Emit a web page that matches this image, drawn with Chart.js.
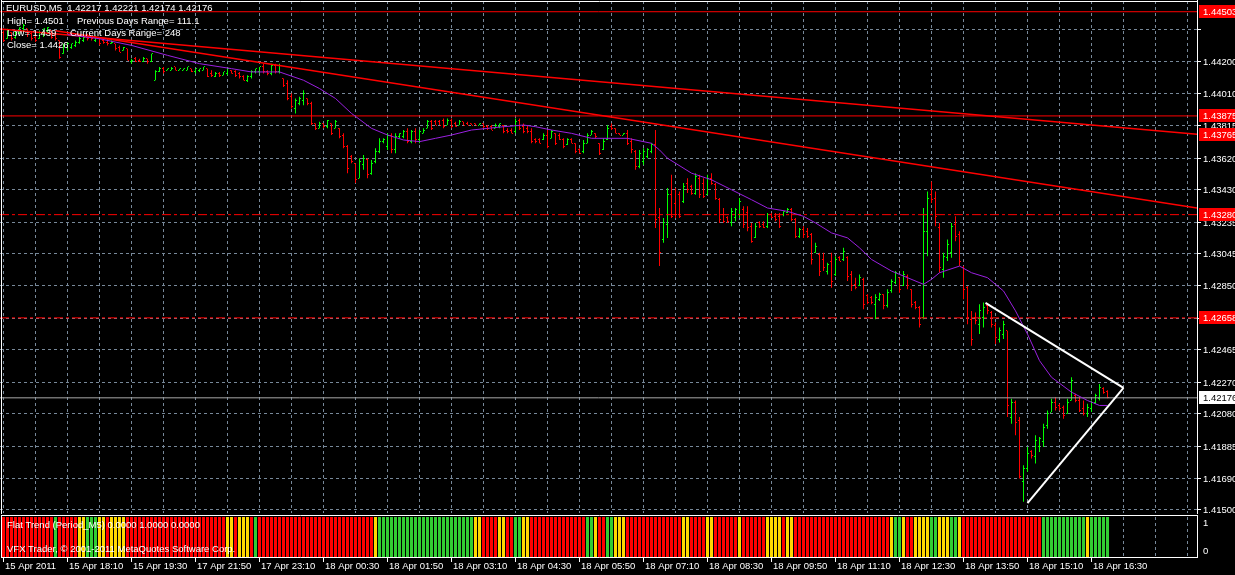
<!DOCTYPE html>
<html><head><meta charset="utf-8">
<script src="https://cdn.jsdelivr.net/npm/chart.js@4.4.0/dist/chart.umd.min.js"></script>
<style>
html,body{margin:0;padding:0;background:#000;overflow:hidden;}
#wrap{position:relative;width:1235px;height:575px;background:#000;}
canvas{position:absolute;left:0;display:block;}
#main{top:0;}
#ind{top:514px;}
</style></head><body>
<div id="wrap">
<canvas id="main" width="1235" height="514"></canvas>
<canvas id="ind" width="1235" height="61"></canvas>
</div>
<script>
// ---------------- DATA ----------------
const symbolTitle = 'EURUSD,M5  1.42217 1.42221 1.42174 1.42176';
const infoLeft = ['High= 1.4501', 'Low= 1.439', 'Close= 1.4426'];
const infoRight = ['Previous Days Range= 111.1', 'Current Days Range= 248'];
const indicatorTitle = 'Flat Trend (Period_M5) 0.0000 1.0000 0.0000';
const copyrightText = 'VFX Trader, \u00A9 2001-2011 MetaQuotes Software Corp.';

const timeLabels = ['15 Apr 2011','15 Apr 18:10','15 Apr 19:30','17 Apr 21:50','17 Apr 23:10','18 Apr 00:30','18 Apr 01:50','18 Apr 03:10','18 Apr 04:30','18 Apr 05:50','18 Apr 07:10','18 Apr 08:30','18 Apr 09:50','18 Apr 11:10','18 Apr 12:30','18 Apr 13:50','18 Apr 15:10','18 Apr 16:30'];
const priceTicks = [1.44395,1.44200,1.44010,1.43815,1.43620,1.43430,1.43235,1.43045,1.42850,1.42655,1.42465,1.42270,1.42080,1.41885,1.41690,1.41500];
const priceTickLabels = ['','1.44200','1.44010','1.43815','1.43620','1.43430','1.43235','1.43045','1.42850','1.42655','1.42465','1.42270','1.42080','1.41885','1.41690','1.41500'];

const barHigh = [
1.4439,1.4440,1.4438,1.4439,1.4441,1.4443,1.4440,1.4438,1.4437,1.4439,
1.4440,1.4441,1.4439,1.4438,1.4433,1.4431,1.4432,1.4431,1.4433,1.4435,
1.4435,1.4437,1.4435,1.4436,1.4434,1.4434,1.4434,1.4433,1.4431,1.4430,
1.4429,1.4428,1.4422,1.4423,1.4422,1.4423,1.4422,1.4425,1.4415,1.4417,
1.4417,1.4416,1.4417,1.4417,1.4416,1.4416,1.4417,1.4416,1.4416,1.4416,
1.4417,1.4416,1.4415,1.4414,1.4414,1.4414,1.4416,1.4415,1.4415,1.4414,
1.4412,1.4412,1.4415,1.4416,1.4417,1.4419,1.4415,1.4419,1.4419,1.4419,
1.4410,1.4409,1.4401,1.4398,1.4399,1.4403,1.4398,1.4396,1.4383,1.4384,
1.4383,1.4385,1.4383,1.4385,1.4380,1.4377,1.4370,1.4364,1.4359,1.4362,
1.4364,1.4362,1.4361,1.4368,1.4374,1.4374,1.4377,1.4377,1.4377,1.4377,
1.4379,1.4380,1.4379,1.4380,1.4379,1.4380,1.4385,1.4385,1.4385,1.4385,
1.4386,1.4386,1.4386,1.4384,1.4385,1.4384,1.4384,1.4383,1.4383,1.4383,
1.4383,1.4382,1.4382,1.4383,1.4383,1.4382,1.4380,1.4380,1.4386,1.4386,
1.4383,1.4382,1.4380,1.4374,1.4374,1.4377,1.4379,1.4379,1.4377,1.4377,
1.4374,1.4374,1.4374,1.4371,1.4368,1.4373,1.4377,1.4379,1.4377,1.4371,
1.4374,1.4382,1.4383,1.4380,1.4377,1.4377,1.4379,1.4374,1.4367,1.4367,
1.4368,1.4368,1.4371,1.4379,1.4332,1.4326,1.4344,1.4352,1.4344,1.4342,
1.4347,1.4350,1.4346,1.4353,1.4352,1.4350,1.4352,1.4353,1.4347,1.4338,
1.4332,1.4327,1.4332,1.4332,1.4338,1.4333,1.4333,1.4323,1.4323,1.4324,
1.4324,1.4329,1.4329,1.4329,1.4329,1.4330,1.4332,1.4332,1.4326,1.4320,
1.4321,1.4320,1.4317,1.4311,1.4305,1.4305,1.4299,1.4305,1.4303,1.4303,
1.4308,1.4303,1.4294,1.4290,1.4292,1.4290,1.4280,1.4279,1.4280,1.4281,
1.4280,1.4283,1.4289,1.4294,1.4290,1.4294,1.4292,1.4283,1.4276,1.4273,
1.4332,1.4342,1.4348,1.4342,1.4323,1.4305,1.4313,1.4323,1.4327,1.4318,
1.4297,1.4285,1.4270,1.4269,1.4274,1.4275,1.4274,1.4270,1.4263,1.4260,
1.4264,1.4258,1.4217,1.4216,1.4206,1.4177,1.4188,1.4186,1.4195,1.4194,
1.4202,1.4210,1.4217,1.4218,1.4214,1.4213,1.4217,1.4230,1.4220,1.4218,
1.4216,1.4214,1.4216,1.4220,1.4226,1.4224,1.42221];
const barLow = [
1.4432,1.4434,1.4433,1.4434,1.4437,1.4438,1.4435,1.4433,1.4432,1.4434,
1.4435,1.4437,1.4434,1.4433,1.4422,1.4425,1.4427,1.4428,1.4429,1.4431,
1.4432,1.4433,1.4433,1.4432,1.4430,1.4431,1.4430,1.4431,1.4427,1.4426,
1.4427,1.4421,1.4419,1.4420,1.4420,1.4420,1.4419,1.4420,1.4409,1.4414,
1.4413,1.4415,1.4415,1.4415,1.4415,1.4415,1.4415,1.4414,1.4413,1.4414,
1.4415,1.4411,1.4411,1.4411,1.4411,1.4412,1.4412,1.4413,1.4411,1.4410,
1.4409,1.4408,1.4410,1.4413,1.4413,1.4413,1.4412,1.4412,1.4413,1.4413,
1.4405,1.4397,1.4392,1.4389,1.4394,1.4394,1.4394,1.4382,1.4379,1.4380,
1.4380,1.4380,1.4376,1.4380,1.4374,1.4368,1.4353,1.4359,1.4347,1.4350,
1.4355,1.4350,1.4352,1.4359,1.4365,1.4371,1.4367,1.4365,1.4365,1.4374,
1.4374,1.4371,1.4371,1.4371,1.4371,1.4377,1.4380,1.4379,1.4382,1.4382,
1.4380,1.4382,1.4380,1.4381,1.4382,1.4382,1.4382,1.4382,1.4382,1.4382,
1.4380,1.4379,1.4379,1.4380,1.4380,1.4377,1.4377,1.4377,1.4377,1.4379,
1.4377,1.4377,1.4371,1.4371,1.4371,1.4373,1.4368,1.4374,1.4370,1.4373,
1.4368,1.4370,1.4371,1.4365,1.4365,1.4365,1.4371,1.4376,1.4374,1.4364,
1.4367,1.4373,1.4379,1.4377,1.4376,1.4376,1.4370,1.4365,1.4355,1.4356,
1.4358,1.4362,1.4365,1.4320,1.4297,1.4311,1.4314,1.4326,1.4326,1.4326,
1.4335,1.4341,1.4340,1.4340,1.4338,1.4338,1.4340,1.4346,1.4337,1.4323,
1.4323,1.4323,1.4321,1.4324,1.4326,1.4320,1.4318,1.4311,1.4314,1.4320,
1.4320,1.4320,1.4326,1.4324,1.4320,1.4327,1.4329,1.4324,1.4314,1.4314,
1.4314,1.4314,1.4298,1.4305,1.4291,1.4294,1.4292,1.4284,1.4291,1.4300,
1.4300,1.4288,1.4282,1.4283,1.4285,1.4271,1.4274,1.4274,1.4265,1.4276,
1.4271,1.4272,1.4281,1.4286,1.4281,1.4285,1.4283,1.4272,1.4271,1.4260,
1.4265,1.4303,1.4335,1.4321,1.4293,1.4290,1.4300,1.4302,1.4312,1.4297,
1.4277,1.4262,1.4249,1.4262,1.4256,1.4260,1.4268,1.4260,1.4250,1.4251,
1.4253,1.4206,1.4202,1.4195,1.4169,1.4155,1.4173,1.4181,1.4178,1.4185,
1.4188,1.4199,1.4209,1.4210,1.4210,1.4205,1.4208,1.4216,1.4215,1.4209,
1.4207,1.4206,1.4209,1.4214,1.4216,1.4220,1.42174];
const barOpen = [
1.4438,1.4434,1.4438,1.4435,1.4437,1.4440,1.4440,1.4437,1.4435,1.4434,
1.4437,1.4439,1.4439,1.4437,1.4433,1.4425,1.4429,1.4429,1.4430,1.4432,
1.4433,1.4435,1.4435,1.4433,1.4434,1.4433,1.4432,1.4431,1.4431,1.4429,
1.4427,1.4428,1.4420,1.4422,1.4421,1.4420,1.4422,1.4420,1.4409,1.4414,
1.4416,1.4415,1.4415,1.4417,1.4415,1.4415,1.4415,1.4416,1.4414,1.4415,
1.4415,1.4416,1.4413,1.4411,1.4413,1.4412,1.4413,1.4415,1.4414,1.4413,
1.4411,1.4409,1.4411,1.4414,1.4414,1.4417,1.4414,1.4413,1.4418,1.4414,
1.4410,1.4407,1.4399,1.4392,1.4395,1.4397,1.4398,1.4395,1.4383,1.4380,
1.4383,1.4381,1.4383,1.4380,1.4380,1.4376,1.4369,1.4363,1.4359,1.4350,
1.4358,1.4361,1.4353,1.4360,1.4366,1.4372,1.4369,1.4376,1.4367,1.4375,
1.4375,1.4378,1.4372,1.4378,1.4373,1.4377,1.4380,1.4384,1.4384,1.4384,
1.4385,1.4382,1.4385,1.4383,1.4382,1.4384,1.4383,1.4383,1.4383,1.4382,
1.4383,1.4381,1.4381,1.4380,1.4381,1.4382,1.4379,1.4379,1.4378,1.4385,
1.4381,1.4380,1.4378,1.4373,1.4373,1.4373,1.4376,1.4374,1.4377,1.4376,
1.4373,1.4370,1.4373,1.4371,1.4367,1.4366,1.4371,1.4376,1.4377,1.4371,
1.4367,1.4373,1.4381,1.4380,1.4377,1.4376,1.4377,1.4372,1.4366,1.4357,
1.4360,1.4363,1.4366,1.4370,1.4326,1.4313,1.4322,1.4340,1.4335,1.4340,
1.4336,1.4347,1.4345,1.4341,1.4350,1.4347,1.4340,1.4350,1.4346,1.4337,
1.4328,1.4326,1.4323,1.4326,1.4328,1.4331,1.4329,1.4321,1.4314,1.4323,
1.4322,1.4321,1.4328,1.4327,1.4327,1.4328,1.4329,1.4331,1.4325,1.4315,
1.4319,1.4318,1.4316,1.4305,1.4304,1.4301,1.4294,1.4300,1.4292,1.4302,
1.4301,1.4302,1.4292,1.4286,1.4285,1.4289,1.4279,1.4278,1.4274,1.4277,
1.4280,1.4273,1.4282,1.4287,1.4290,1.4285,1.4291,1.4283,1.4275,1.4272,
1.4266,1.4318,1.4340,1.4338,1.4320,1.4295,1.4302,1.4305,1.4322,1.4316,
1.4296,1.4284,1.4265,1.4266,1.4262,1.4266,1.4273,1.4269,1.4261,1.4253,
1.4256,1.4258,1.4206,1.4215,1.4204,1.4167,1.4175,1.4185,1.4182,1.4188,
1.4191,1.4201,1.4209,1.4215,1.4213,1.4212,1.4208,1.4216,1.4219,1.4216,
1.4211,1.4208,1.4211,1.4215,1.4217,1.4223,1.42217];
const barClose = [
1.4433,1.4439,1.4434,1.4438,1.4441,1.4442,1.4437,1.4434,1.4433,1.4438,
1.4440,1.4441,1.4435,1.4434,1.4423,1.4430,1.4431,1.4431,1.4432,1.4434,
1.4435,1.4434,1.4434,1.4435,1.4431,1.4432,1.4431,1.4432,1.4428,1.4426,
1.4429,1.4421,1.4421,1.4420,1.4420,1.4422,1.4420,1.4425,1.4414,1.4416,
1.4414,1.4416,1.4416,1.4415,1.4416,1.4416,1.4417,1.4414,1.4416,1.4416,
1.4417,1.4411,1.4412,1.4413,1.4412,1.4414,1.4416,1.4413,1.4412,1.4411,
1.4409,1.4411,1.4414,1.4416,1.4417,1.4414,1.4413,1.4418,1.4414,1.4418,
1.4406,1.4398,1.4393,1.4397,1.4398,1.4401,1.4395,1.4383,1.4380,1.4383,
1.4381,1.4385,1.4377,1.4384,1.4375,1.4369,1.4356,1.4360,1.4349,1.4360,
1.4362,1.4352,1.4359,1.4366,1.4372,1.4373,1.4376,1.4367,1.4375,1.4377,
1.4378,1.4372,1.4378,1.4373,1.4378,1.4379,1.4384,1.4380,1.4382,1.4382,
1.4381,1.4385,1.4381,1.4381,1.4384,1.4382,1.4382,1.4382,1.4382,1.4383,
1.4381,1.4380,1.4379,1.4382,1.4383,1.4378,1.4378,1.4377,1.4384,1.4380,
1.4378,1.4378,1.4372,1.4372,1.4371,1.4376,1.4369,1.4378,1.4371,1.4373,
1.4369,1.4373,1.4371,1.4366,1.4365,1.4371,1.4376,1.4378,1.4375,1.4365,
1.4372,1.4380,1.4380,1.4377,1.4376,1.4377,1.4371,1.4367,1.4357,1.4365,
1.4366,1.4367,1.4370,1.4325,1.4305,1.4323,1.4340,1.4327,1.4328,1.4327,
1.4345,1.4343,1.4341,1.4351,1.4340,1.4339,1.4350,1.4347,1.4338,1.4325,
1.4324,1.4324,1.4330,1.4331,1.4336,1.4322,1.4320,1.4312,1.4321,1.4321,
1.4320,1.4328,1.4326,1.4325,1.4321,1.4330,1.4331,1.4325,1.4315,1.4319,
1.4316,1.4315,1.4301,1.4309,1.4294,1.4296,1.4298,1.4288,1.4301,1.4300,
1.4306,1.4291,1.4285,1.4284,1.4290,1.4274,1.4275,1.4275,1.4278,1.4280,
1.4273,1.4281,1.4288,1.4293,1.4283,1.4292,1.4285,1.4274,1.4272,1.4262,
1.4318,1.4338,1.4337,1.4327,1.4296,1.4303,1.4310,1.4321,1.4315,1.4300,
1.4283,1.4266,1.4253,1.4264,1.4270,1.4272,1.4270,1.4262,1.4254,1.4258,
1.4262,1.4213,1.4215,1.4203,1.4170,1.4175,1.4184,1.4183,1.4192,1.4193,
1.4200,1.4208,1.4215,1.4212,1.4211,1.4207,1.4215,1.4228,1.4216,1.4210,
1.4208,1.4212,1.4215,1.4219,1.4224,1.4221,1.42176];

// moving average (bar index, price)
const maBar   = [16,24,32,41,49,57,62,69,75,79,83,87,92,96,100,104,108,112,117,121,125,130,133,137,142,147,156,162,164,166,172,177,182,187,191,196,200,203,207,211,214,217,222,226,230,232,234,239,242,246,250,253,256,259,262,267,271,274,276];
const maPrice = [1.44365,1.4434,1.4430,1.4424,1.4419,1.4416,1.4414,1.4414,1.4409,1.4404,1.4398,1.4389,1.4380,1.4376,1.4373,1.4372,1.4374,1.4376,1.4379,1.4380,1.4381,1.4382,1.4381,1.4379,1.4377,1.4374,1.4374,1.4371,1.4367,1.4362,1.4353,1.4349,1.4343,1.4337,1.4332,1.4330,1.4327,1.4323,1.4317,1.4314,1.4308,1.4301,1.4294,1.4290,1.4286,1.4289,1.4293,1.4297,1.4293,1.4290,1.4282,1.4270,1.4256,1.4240,1.4230,1.4221,1.4216,1.4213,1.4213];

// horizontal price lines and labels
const solidLevels = [1.44503, 1.43875];
const dashDotLevels = [1.43280, 1.42658];
const bidPrice = 1.42176;
const trendEndLabel = 1.43765;
// trend lines: [barIndex, price] anchors
const trendA = [[-0.875, 1.44399], [298.375, 1.43765]];
const trendB = [[13, 1.44389], [298.375, 1.43320]];
const triangle = [[245.5, 1.42748], [280, 1.42236], [256, 1.41542]];

// Flat Trend indicator state per bar (R=red, Y=yellow, G=green), run-length
const trendRuns = [['R',13],['G',1],['R',5],['Y',2],['G',3],['Y',2],['R',1],['Y',4],['R',25],['Y',2],['R',1],['Y',3],['R',1],['G',1],['R',29],['Y',1],['G',24],['Y',2],['R',4],['Y',2],['R',2],['G',2],['Y',2],['R',14],['G',2],['Y',1],['R',2],['G',2],['Y',3],['R',14],['Y',2],['R',4],['Y',2],['R',6],['Y',1],['R',6],['Y',4],['R',1],['Y',2],['R',24],['Y',1],['G',2],['Y',1],['R',2],['Y',4],['G',2],['Y',3],['G',2],['Y',1],['R',20],['G',11],['Y',1],['G',5]];
const indicatorLevels = ['1','0'];

// ---------------- RENDER ----------------
const FONT = '"Liberation Sans",Arial,sans-serif';
const FSIZE = '9.5px ';
const X_MIN = -0.875, X_MAX = 298.375;
const Y_MIN = 1.414819, Y_MAX = 1.445676;
const GRID = '#778899';
const UP = '#00ff00', DOWN = '#ff0000';

const barColors = barClose.map((c,i)=> c >= barOpen[i] ? UP : DOWN);
const trendStates = [];
trendRuns.forEach(([s,n])=>{ for(let k=0;k<n;k++) trendStates.push(s); });
const stateColor = {R:'#ff0000', Y:'#ffd700', G:'#32cd32'};

const xGridTicks = [];
for (let v=0; v<=X_MAX; v+=8) xGridTicks.push({value:v});

function lineDs(points, color, width, dash, order){
  return {type:'line', data: points.map(p=>({x:p[0], y:p[1]})), borderColor:color, borderWidth:width,
    borderDash: dash||[], pointRadius:0, tension:0, fill:false, order: order, spanGaps:true};
}
const datasets = [
  {type:'bar', data: barHigh.map((h,i)=>({x:i, y:[barLow[i], h]})), backgroundColor: barColors,
   borderWidth:0, barThickness:1, inflateAmount:0, grouped:false, order:10}
];
solidLevels.forEach(v=>datasets.push(lineDs([[X_MIN,v],[X_MAX,v]], '#ff0000', 1, [], 3)));
dashDotLevels.forEach(v=>datasets.push(lineDs([[X_MIN,v],[X_MAX,v]], '#ff0000', 1, [9,3,3,3], 3)));
datasets.push(lineDs([[X_MIN,bidPrice],[X_MAX,bidPrice]], '#a8a8a8', 1, [], 4));
datasets.push(lineDs(trendA, '#ff0000', 1.5, [], 2));
datasets.push(lineDs(trendB, '#ff0000', 1.5, [], 2));
datasets.push(lineDs(maBar.map((b,i)=>[b, maPrice[i]]), '#9a20e0', 1, [], 1));
datasets.push(lineDs([triangle[0], triangle[1]], '#ffffff', 2, [], 0));
datasets.push(lineDs([triangle[1], triangle[2]], '#ffffff', 2, [], 0));

const ohlcTicks = {
  id:'ohlcTicks',
  afterDatasetDraw(chart, args){
    if (args.meta.type !== 'bar') return;
    const {ctx, chartArea} = chart; const x = chart.scales.x, y = chart.scales.y;
    ctx.save();
    ctx.beginPath(); ctx.rect(chartArea.left, chartArea.top, chartArea.width, chartArea.height); ctx.clip();
    for (let i=0;i<barOpen.length;i++){
      const px = Math.floor(x.getPixelForValue(i));
      ctx.fillStyle = barColors[i];
      ctx.fillRect(px-1, Math.floor(y.getPixelForValue(barOpen[i])), 1, 1);
      ctx.fillRect(px+1, Math.floor(y.getPixelForValue(barClose[i])), 1, 1);
    }
    ctx.restore();
  }
};

const mainDecor = {
  id:'mainDecor',
  afterDraw(chart){
    const {ctx} = chart; const y = chart.scales.y;
    ctx.save();
    ctx.textBaseline = 'middle'; ctx.textAlign = 'left';
    ctx.font = FSIZE + FONT;
    priceTicks.forEach((v,k)=>{
      const py = Math.floor(y.getPixelForValue(v));
      ctx.fillStyle = '#ffffff';
      ctx.fillRect(1197, py, 4, 1);
      if (priceTickLabels[k]) ctx.fillText(priceTickLabels[k], 1203, py+1);
    });
    [solidLevels[0], solidLevels[1], trendEndLabel, dashDotLevels[0], dashDotLevels[1]].forEach(v=>{
      const py = Math.floor(y.getPixelForValue(v));
      ctx.fillStyle = '#ff0000'; ctx.fillRect(1199, py-6, 36, 13);
      ctx.fillStyle = '#ffffff'; ctx.fillText(v.toFixed(5), 1203, py+1);
    });
    {
      const py = Math.floor(y.getPixelForValue(bidPrice));
      ctx.fillStyle = '#ffffff'; ctx.fillRect(1199, py-6, 36, 13);
      ctx.fillStyle = '#000000'; ctx.fillText(bidPrice.toFixed(5), 1203, py+1);
    }
    ctx.strokeStyle = '#ffffff'; ctx.lineWidth = 1;
    ctx.beginPath();
    ctx.moveTo(1.5, 0); ctx.lineTo(1.5, 514);
    ctx.moveTo(1197.5, 0); ctx.lineTo(1197.5, 514);
    ctx.moveTo(1, 1.5); ctx.lineTo(1198, 1.5);
    ctx.stroke();
    ctx.fillStyle = '#ffffff';
    ctx.font = FSIZE + FONT;
    ctx.fillText(symbolTitle, 6, 8);
    ctx.fillText(infoLeft[0], 7, 21);
    ctx.fillText(infoLeft[1], 7, 33);
    ctx.fillText(infoLeft[2], 7, 45);
    ctx.fillText(infoRight[0], 77, 21);
    ctx.fillText(infoRight[1], 70, 33);
    ctx.restore();
  }
};

new Chart(document.getElementById('main'), {
  type:'bar',
  data:{datasets},
  options:{
    responsive:false, animation:false, devicePixelRatio:1, events:[],
    layout:{padding:{left:0,right:0,top:1,bottom:1}},
    plugins:{legend:{display:false}, tooltip:{enabled:false}},
    scales:{
      x:{type:'linear', min:X_MIN, max:X_MAX, offset:false,
         afterBuildTicks:(s)=>{ s.ticks = xGridTicks.slice(); },
         ticks:{display:false}, grid:{color:GRID, drawTicks:false, offset:false, lineWidth:1},
         border:{display:false, dash:[3,3]}},
      y:{type:'linear', position:'right', min:Y_MIN, max:Y_MAX,
         afterBuildTicks:(s)=>{ s.ticks = priceTicks.map(v=>({value:v})); },
         afterFit:(s)=>{ s.width = 38; },
         ticks:{display:false}, grid:{color:GRID, drawTicks:false, lineWidth:1},
         border:{display:false, dash:[3,3]}}
    }
  },
  plugins:[ohlcTicks, mainDecor]
});

// ---------------- INDICATOR PANE ----------------
const indDecor = {
  id:'indDecor',
  afterDraw(chart){
    const {ctx} = chart; const x = chart.scales.x, y = chart.scales.y;
    const top = Math.floor(y.getPixelForValue(1)), bot = Math.floor(y.getPixelForValue(0));
    ctx.save();
    ctx.strokeStyle = '#ffffff'; ctx.lineWidth = 1;
    ctx.beginPath();
    ctx.moveTo(1, 1.5); ctx.lineTo(1198, 1.5);
    ctx.moveTo(1.5, 1); ctx.lineTo(1.5, bot+1);
    ctx.moveTo(1197.5, 1); ctx.lineTo(1197.5, bot+1);
    ctx.moveTo(1, bot+0.5); ctx.lineTo(1198, bot+0.5);
    ctx.stroke();
    ctx.fillStyle = '#ffffff';
    ctx.textBaseline = 'middle'; ctx.textAlign = 'left';
    ctx.font = FSIZE + FONT;
    ctx.fillText(indicatorTitle, 7, 11);
    ctx.fillText(copyrightText, 7, 35);
    ctx.fillText(indicatorLevels[0], 1203, top+6);
    ctx.fillText(indicatorLevels[1], 1203, bot-6);
    timeLabels.forEach((t,k)=>{
      const px = Math.floor(x.getPixelForValue(k*16));
      ctx.fillRect(px, bot+1, 1, 4);
      ctx.fillText(t, px+2, 52);
    });
    ctx.restore();
  }
};

new Chart(document.getElementById('ind'), {
  type:'bar',
  data:{datasets:[{type:'bar', data: trendStates.map((s,i)=>({x:i, y:1})),
    backgroundColor: trendStates.map(s=>stateColor[s]), borderWidth:0, barThickness:3, inflateAmount:0, grouped:false}]},
  options:{
    responsive:false, animation:false, devicePixelRatio:1, events:[],
    layout:{padding:{left:0,right:0,top:3,bottom:18}},
    plugins:{legend:{display:false}, tooltip:{enabled:false}},
    scales:{
      x:{type:'linear', min:X_MIN, max:X_MAX, offset:false,
         afterBuildTicks:(s)=>{ s.ticks = xGridTicks.slice(); },
         ticks:{display:false}, grid:{color:GRID, drawTicks:false, offset:false},
         border:{display:false, dash:[3,3]}},
      y:{type:'linear', position:'right', min:0, max:1,
         afterBuildTicks:(s)=>{ s.ticks = [{value:0},{value:1}]; },
         afterFit:(s)=>{ s.width = 38; },
         ticks:{display:false}, grid:{display:false},
         border:{display:false}}
    }
  },
  plugins:[indDecor]
});
</script>
</body></html>
